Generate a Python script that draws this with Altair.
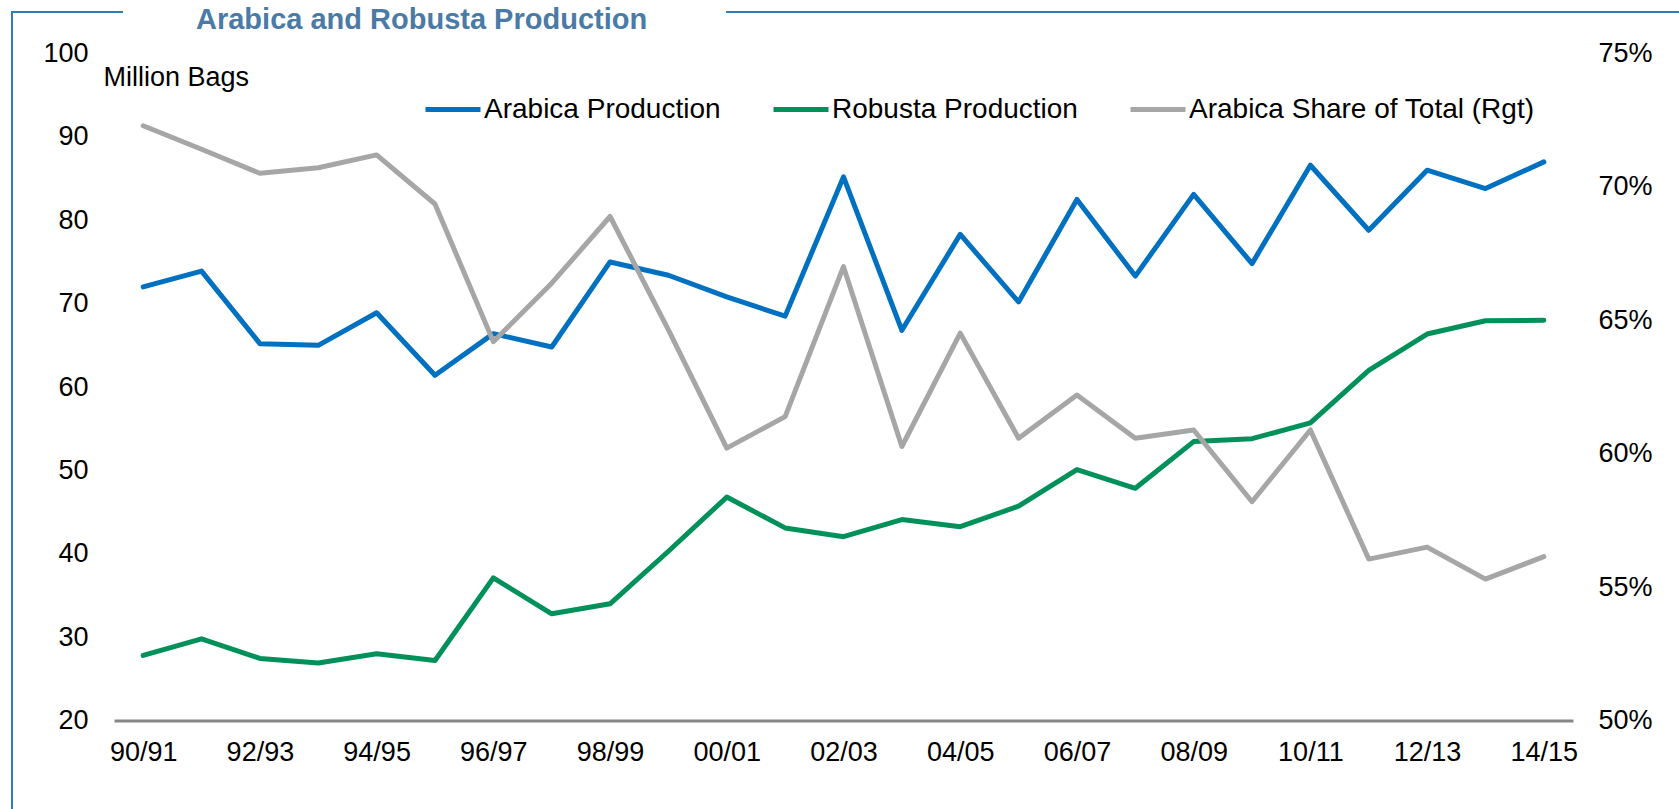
import altair as alt
import pandas as pd

seasons = ["90/91", "91/92", "92/93", "93/94", "94/95", "95/96", "96/97", "97/98",
           "98/99", "99/00", "00/01", "01/02", "02/03", "03/04", "04/05", "05/06",
           "06/07", "07/08", "08/09", "09/10", "10/11", "11/12", "12/13", "13/14", "14/15"]
arabica = [72.0, 73.9, 65.2, 65.0, 68.9, 61.4, 66.4, 64.8, 75.0, 73.4, 70.8, 68.5,
           85.2, 66.8, 78.3, 70.2, 82.5, 73.3, 83.1, 74.8, 86.6, 78.8, 86.0, 83.8, 87.0]
robusta = [27.8, 29.8, 27.45, 26.9, 28.0, 27.2, 37.1, 32.8, 34.0, 40.3, 46.8, 43.1,
           42.05, 44.1, 43.25, 45.7, 50.1, 47.85, 53.45, 53.8, 55.7, 62.0, 66.35, 67.95, 68.0]
share_pct = [72.29, 71.41, 70.51, 70.72, 71.20, 69.36, 64.20, 66.39, 68.89, 64.64, 60.21, 61.39,
             67.01, 60.27, 64.52, 60.58, 62.20, 60.58, 60.89, 58.20, 60.89, 56.05, 56.50, 55.30, 56.14]
series_names = ["Arabica Production", "Robusta Production", "Arabica Share of Total (Rgt)"]
series_colors = ["#0070C0", "#00915A", "#A6A6A6"]
x_tick_labels = seasons[::2]
chart_title = "Arabica and Robusta Production"

prod_df = pd.DataFrame({
    "season": seasons * 2,
    "value": arabica + robusta,
    "series": [series_names[0]] * len(seasons) + [series_names[1]] * len(seasons),
    "order": list(range(len(seasons))) * 2,
})
share_df = pd.DataFrame({
    "season": seasons,
    "value": [v / 100 for v in share_pct],
    "series": [series_names[2]] * len(seasons),
    "order": list(range(len(seasons))),
})

FONT = "Liberation Sans"
FS = 27
W, H = 1459, 667
PAD_L, PAD_T = 114, 53.5
LW = 5

x_enc = alt.X("season:N", sort=seasons,
              scale=alt.Scale(type="point", padding=0.5),
              axis=alt.Axis(values=x_tick_labels, title=None, ticks=False, grid=False,
                            labelAngle=0, labelFont=FONT, labelFontSize=FS, labelColor="#000000",
                            labelPadding=19, domainColor="#868686", domainWidth=3,
                            labelBaseline="top"))

color_enc = alt.Color("series:N",
                      scale=alt.Scale(domain=series_names, range=series_colors),
                      legend=alt.Legend(title=None, orient="none", legendX=309, legendY=26,
                                        direction="horizontal", symbolType="stroke",
                                        symbolSize=3025, symbolStrokeWidth=LW,
                                        labelFont=FONT, labelFontSize=28, labelColor="#000000",
                                        labelLimit=1000, labelOffset=1, columnPadding=42,
                                        symbolOffset=0))

prod = alt.Chart(prod_df).mark_line(strokeWidth=LW, strokeJoin="round", strokeCap="round").encode(
    x=x_enc,
    y=alt.Y("value:Q", scale=alt.Scale(domain=[20, 100], nice=False, zero=False),
            axis=alt.Axis(values=[20, 30, 40, 50, 60, 70, 80, 90, 100], grid=False, ticks=False,
                          domain=False, orient="left", labelFont=FONT, labelFontSize=FS,
                          labelColor="#000000", labelPadding=26,
                          title="Million Bags", titleAngle=0, titleAlign="left",
                          titleBaseline="middle", titleX=-11, titleY=24,
                          titleFont=FONT, titleFontSize=FS, titleFontWeight="normal",
                          titleColor="#000000")),
    color=color_enc,
    order="order:Q",
)

share = alt.Chart(share_df).mark_line(strokeWidth=LW, strokeJoin="round", strokeCap="round").encode(
    x=x_enc,
    y=alt.Y("value:Q", scale=alt.Scale(domain=[0.5, 0.75], nice=False, zero=False),
            axis=alt.Axis(values=[0.5, 0.55, 0.6, 0.65, 0.7, 0.75], format=".0%", grid=False,
                          ticks=False, domain=False, orient="right", labelFont=FONT,
                          labelFontSize=FS, labelColor="#000000", labelPadding=25,
                          title=None)),
    color=color_enc,
    order="order:Q",
)

frame_color = "#2E7DB5"
one = alt.Data(values=[{"k": 1}])
frame_top_left = alt.Chart(one).mark_rule(color=frame_color, strokeWidth=2).encode(
    x=alt.value(-102), x2=alt.value(9), y=alt.value(-41.5))
frame_top_right = alt.Chart(one).mark_rule(color=frame_color, strokeWidth=2).encode(
    x=alt.value(612), x2=alt.value(1570), y=alt.value(-41.5))
frame_left = alt.Chart(one).mark_rule(color=frame_color, strokeWidth=2).encode(
    x=alt.value(-102), y=alt.value(-42.5), y2=alt.value(760))
title_text = alt.Chart(one).mark_text(
    align="left", baseline="alphabetic", font=FONT, fontSize=29, fontWeight="bold",
    color="#4A7BA6").encode(
    x=alt.value(82), y=alt.value(-25), text=alt.value(chart_title))

chart = alt.layer(prod, share, frame_top_left, frame_top_right, frame_left, title_text).resolve_scale(
    y="independent"
).properties(
    width=W, height=H,
    autosize=alt.AutoSizeParams(type="none"),
    padding={"left": PAD_L, "top": PAD_T, "right": 1679 - PAD_L - W, "bottom": 809 - PAD_T - H},
).configure(background="#FFFFFF", view=alt.ViewConfig(strokeWidth=0, stroke="transparent"))

chart.save("out.html", embed_options={"renderer": "svg", "actions": False})
